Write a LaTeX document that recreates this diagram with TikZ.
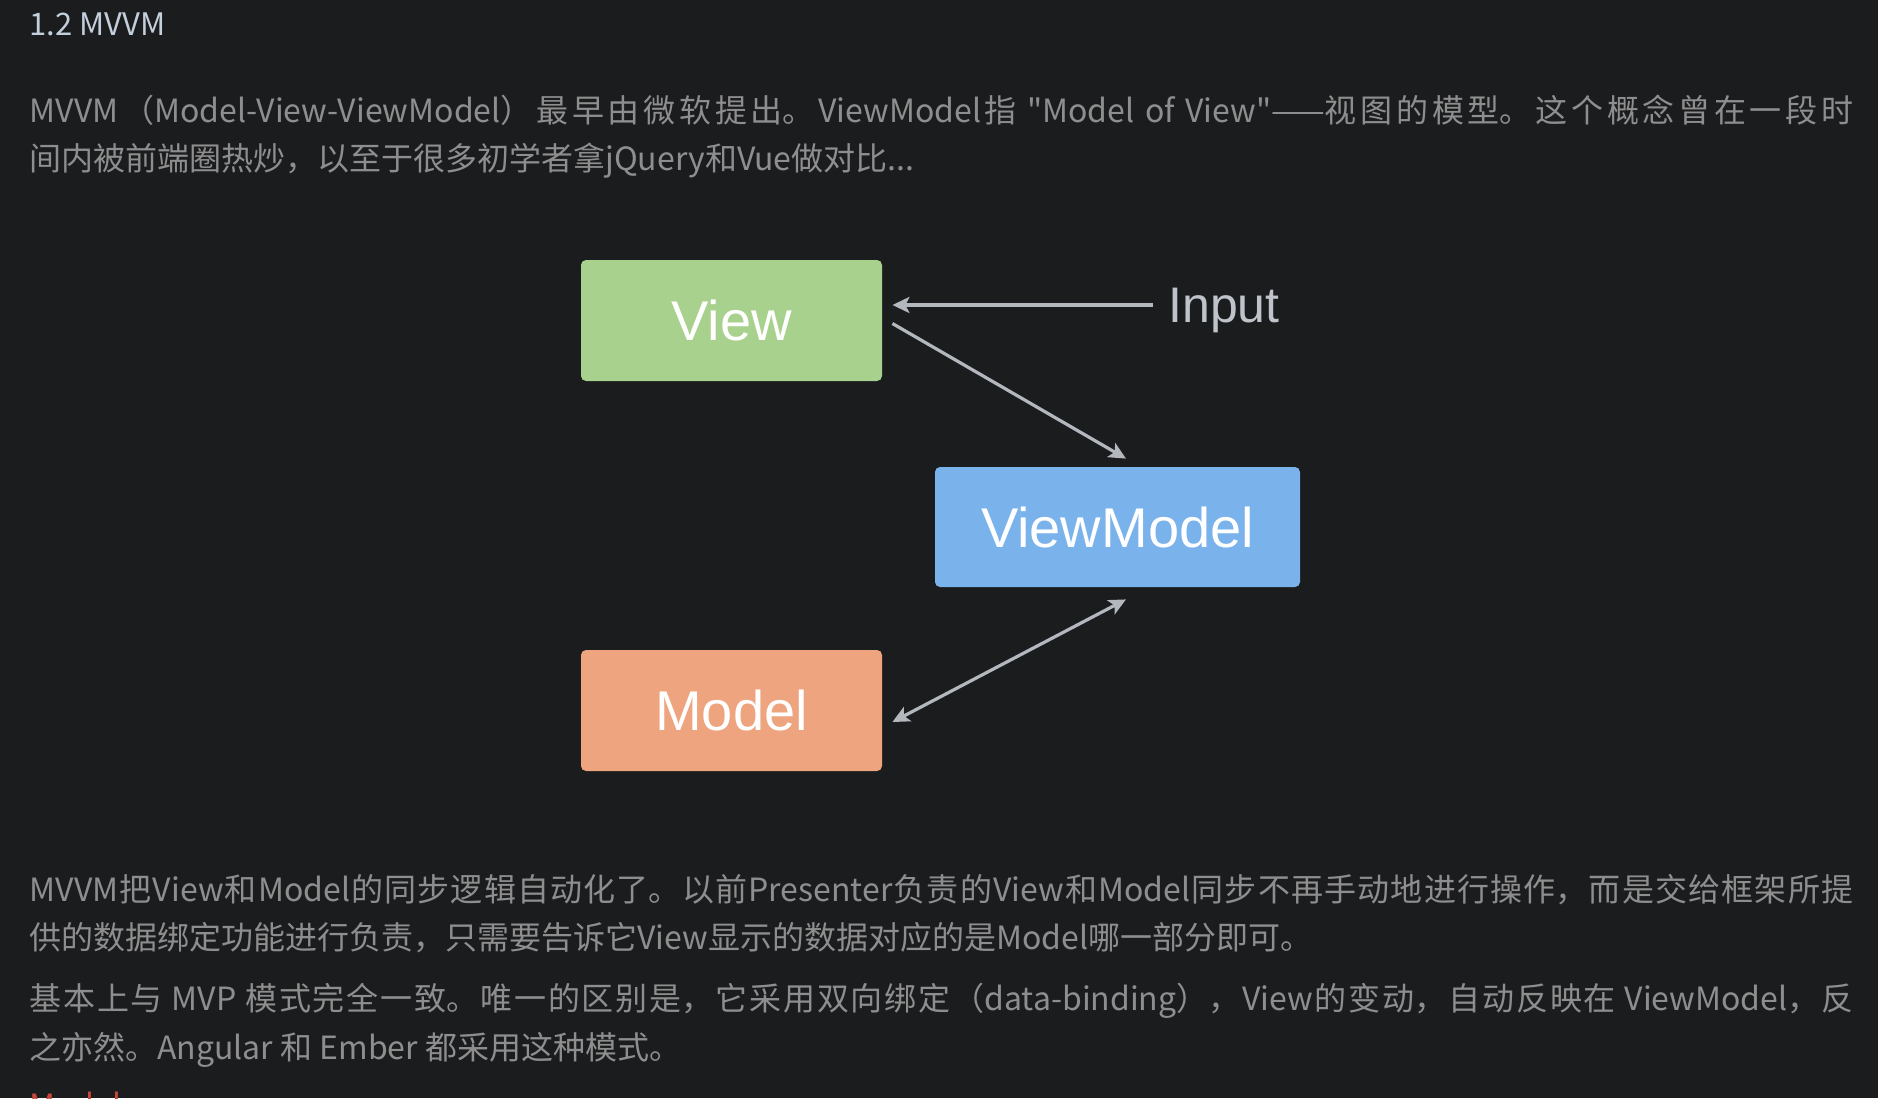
\documentclass[tikz,border=0pt]{standalone}
\usepackage{fontspec}
\setmainfont{Noto Sans CJK SC}[Ligatures=TeXOff]
\newfontfamily\diagfont{Liberation Sans}
\usetikzlibrary{arrows.meta, positioning, calc}
\XeTeXlinebreaklocale "zh"
\XeTeXlinebreakskip=0pt plus 2pt

\definecolor{bgdark}{HTML}{1B1C1E}
\definecolor{textgray}{HTML}{8E8E8E}
\definecolor{titleblue}{HTML}{C3CFDB}
\definecolor{viewgreen}{HTML}{A8D18D}
\definecolor{vmblue}{HTML}{7AB2EC}
\definecolor{modelorange}{HTML}{EEA47E}
\definecolor{arrowgray}{HTML}{B2B8BE}
\definecolor{inputgray}{HTML}{BEC4CA}
\definecolor{linkred}{HTML}{C8473D}

\begin{document}
\begin{tikzpicture}[x=0.5pt, y=-0.5pt,
    >={Stealth[length=8.5pt, width=8pt, inset=2pt]},
    textline/.style={anchor=base west, inner sep=0pt, text=textgray, font=\fontsize{16pt}{20pt}\selectfont},
    fullline/.style={textline, text width=912pt, align=justify, execute at begin node={\parfillskip=0pt\tolerance=10000\relax}},
    mvvmbox/.style={rounded corners=2.5pt, minimum height=60.5pt, text=white, font=\diagfont\fontsize{28pt}{32pt}\selectfont},
    conn/.style={draw=arrowgray, line width=1.6pt, ->}]

            % Nền tối
            \useasboundingbox (0,0) rectangle (1878,1098);
            \fill[bgdark] (0,0) rectangle (1878,1098);
            \clip (0,0) rectangle (1878,1098);

            % Tiêu đề và đoạn mở đầu
            \node[textline, text=titleblue, font=\fontsize{15.5pt}{18pt}\selectfont] (title) at (29,35) {1.2 MVVM};
            \node[fullline] (introa) at (29,122) {MVVM（Model-View-ViewModel）最早由微软提出。ViewModel指 "Model of View"——视图的模型。这个概念曾在一段时};
            \node[textline] (introb) at (29,170) {间内被前端圈热炒，以至于很多初学者拿jQuery和Vue做对比...};

            % Ba hộp View, ViewModel, Model
            \node[mvvmbox, fill=viewgreen, minimum width=150.5pt] (view) at (731.5,320.5) {View};
            \node[mvvmbox, fill=vmblue, minimum width=182.5pt, minimum height=60pt] (vm) at (1117.5,527) {ViewModel};
            \node[mvvmbox, fill=modelorange, minimum width=150.5pt] (model) at (731.5,710.5) {Model};

            % Nhãn Input
            \node[anchor=base west, inner sep=0pt, text=inputgray, font=\diagfont\fontsize{25pt}{30pt}\selectfont] (input) at (1168,322) {Input};
            \coordinate (inputtail) at (1153,305);

            % Các mũi tên
            \draw[conn, shorten >=5pt] (inputtail) -- (inputtail -| view.east);
            \draw[conn] ([shift={(10,3)}]view.east) -- ([shift={(8.5,-8)}]vm.north);
            \draw[conn, <->] ([shift={(10,11.5)}]model.east) -- ([shift={(8.5,12)}]vm.south);

            % Các đoạn phía dưới
            \node[fullline] (synca) at (29,901) {MVVM把View和Model的同步逻辑自动化了。以前Presenter负责的View和Model同步不再手动地进行操作，而是交给框架所提};
            \node[textline] (syncb) at (29,949) {供的数据绑定功能进行负责，只需要告诉它View显示的数据对应的是Model哪一部分即可。};
            \node[fullline] (bindinga) at (29,1010) {基本上与 MVP 模式完全一致。唯一的区别是，它采用双向绑定（data-binding），View的变动，自动反映在 ViewModel，反};
            \node[textline] (bindingb) at (29,1059) {之亦然。Angular 和 Ember 都采用这种模式。};
            \node[textline, text=linkred] (nextitem) at (29,1117) {Model};

            \end{tikzpicture}
\end{document}
